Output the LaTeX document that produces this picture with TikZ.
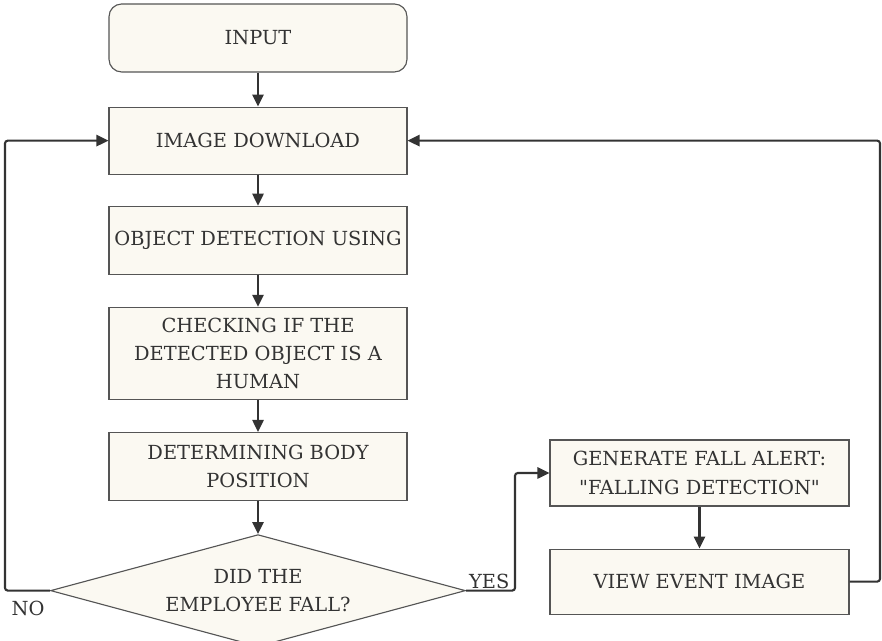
\documentclass[tikz,border=0pt]{standalone}
\usepackage{fontspec}
\setmainfont{DejaVu Serif}
\usepackage{tikz}
\usetikzlibrary{positioning, arrows.meta, shapes.geometric}
\definecolor{cream}{RGB}{251,249,242}
\definecolor{edge}{RGB}{85,85,85}
\definecolor{ink}{RGB}{51,51,51}

\begin{document}
\begin{tikzpicture}[
       node distance=0.8cm,
       font=\fontsize{13.8}{20}\selectfont,
       box/.style={rectangle, draw=edge, line width=0.8pt, fill=cream, text=ink,
         minimum width=7.45cm, minimum height=1.7cm, align=center, inner sep=2pt},
       startbox/.style={box, rounded corners=9pt},
       decide/.style={diamond, draw=edge, line width=0.8pt, fill=cream, text=ink,
         aspect=3.7, inner sep=0pt, minimum width=10.375cm, minimum height=2.8cm, align=center},
       lbl/.style={text=ink, inner sep=1pt},
       ->/.style={-{Triangle[length=3mm, width=2.8mm]}, line width=1.5pt, draw=ink, rounded corners=2pt}]
     \useasboundingbox (0,0) rectangle (22.05,16.025);
     \node[startbox] (input) at (6.45,15.075) {INPUT};
     \node[box, below=0.85cm of input, minimum height=1.675cm] (download) {IMAGE DOWNLOAD};
     \node[box, below=0.775cm of download] (detect) {OBJECT DETECTION USING};
     \node[box, below=of detect, minimum height=2.3cm] (human) {CHECKING IF THE\\DETECTED OBJECT IS A\\HUMAN};
     \node[box, below=of human] (posture) {DETERMINING BODY\\POSITION};
     \node[decide, below=0.825cm of posture] (fall) {DID THE\\EMPLOYEE FALL?};
     \node[box, minimum width=7.475cm, minimum height=1.65cm] (alert) at (17.4875,4.2) {GENERATE FALL ALERT:\\\textquotedbl FALLING DETECTION\textquotedbl};
     \node[box, minimum width=7.475cm, minimum height=1.625cm, below=1.05cm of alert] (view) {VIEW EVENT IMAGE};
     \coordinate (noside) at (0.125,0);
     \coordinate (yesside) at (12.875,0);
     \coordinate (backside) at (22.0,0);
     \draw [->] (input) to (download);
     \draw [->] (download) to (detect);
     \draw [->] (detect) to (human);
     \draw [->] (human) to (posture);
     \draw [->] (posture) to (fall);
     \draw [->] (fall.west) -- (fall.west -| noside) |- (download.west);
     \draw [->] (fall.east) -- (fall.east -| yesside) |- (alert.west);
     \draw [->] (alert) to (view);
     \draw [->] (view.east) -- (view.east -| backside) |- (download.east);
     \node[lbl, anchor=south west] (yes) at ([xshift=1pt]fall.east) {YES};
     \node[lbl] (no) at (0.7,0.825) {NO};
   \end{tikzpicture}
\end{document}
